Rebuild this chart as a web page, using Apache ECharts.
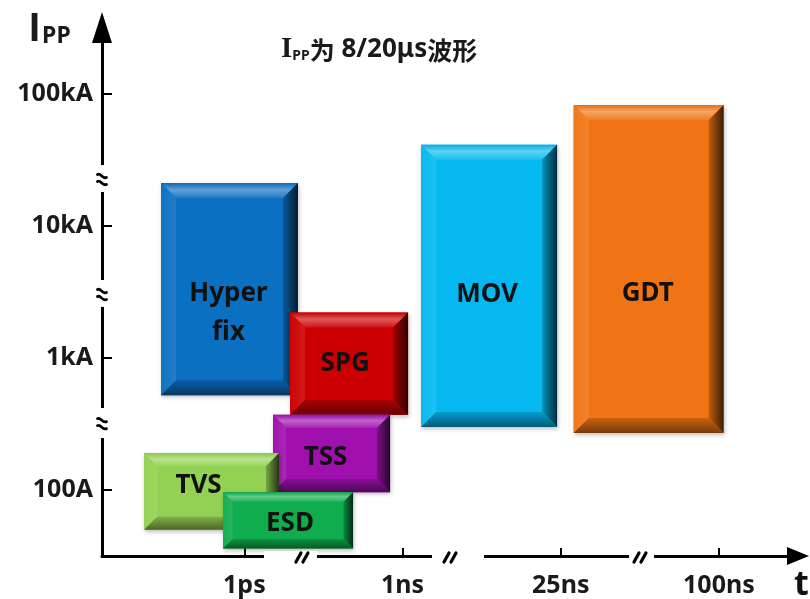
<!DOCTYPE html>
<html><head><meta charset="utf-8">
<script src="https://cdn.jsdelivr.net/npm/echarts@6/dist/echarts.min.js"></script>
<style>html,body{margin:0;padding:0;background:#fff}#c{width:810px;height:599px}</style>
</head><body><div id="c"></div>
<script>
// ---- data ----
const names    = ['Hyper\nfix', 'SPG', 'TSS', 'TVS', 'ESD', 'MOV', 'GDT'];
const tStart   = [0.473, 1.289, 1.181, 0.366, 0.865, 2.117, 3.082];   // time-axis slots
const tEnd     = [1.339, 2.035, 1.921, 1.219, 1.687, 2.977, 4.030];
const ippLow   = [520, 370, 96, 50, 36, 300, 270];                     // A
const ippHigh  = [21000, 2200, 370, 190, 96, 41000, 82000];            // A
const xTickLabels = ['1ps', '1ns', '25ns', '100ns'];
const xTickPos    = [1, 2, 3, 4];
const yTickLabels = ['100A', '1kA', '10kA', '100kA'];
const yTickValues = [100, 1000, 10000, 100000];
const xBreaks = [[1.124, 1.459, 1.364], [2.186, 2.515, 2.300], [3.432, 3.590, 3.501]]; // gap start, gap end, mark
const yBreaks = [[17990, 28770, 22180], [2427, 3882, 2987], [247, 417, 315]];

// ---- styles ----
const faces = ['#0b6fc2', '#cc0000', '#9f10ae', '#93d152', '#10ad4f', '#05b9f0', '#f07414'];
const labelOffsets = [[-1, 24], [-4, 0], [-6, 4], [-13, -6], [2, 3], [-2, 9], [-1, 25]];
const FONT = '"Noto Sans", "Noto Sans CJK SC", sans-serif';

function mix(hex, t) { // t>0 toward white, t<0 toward black
  const n = parseInt(hex.slice(1), 16);
  let r = n >> 16, g = (n >> 8) & 255, b = n & 255;
  const f = c => Math.round(t >= 0 ? c + (255 - c) * t : c * (1 + t));
  return 'rgb(' + f(r) + ',' + f(g) + ',' + f(b) + ')';
}
const LG = (x, y, x2, y2, stops) => ({type: 'linear', x, y, x2, y2, colorStops: stops.map(s => ({offset: s[0], color: s[1]}))});

const yTickPos = yTickValues.map(v => Math.log10(v));
const boxData = names.map((n, i) => [tStart[i], tEnd[i], Math.log10(ippLow[i]), Math.log10(ippHigh[i]), i]);

function renderBox(params, api) {
  const i = api.value(4);
  const tl = api.coord([api.value(0), api.value(3)]);
  const br = api.coord([api.value(1), api.value(2)]);
  const L = tl[0], T = tl[1], R = br[0], B = br[1];
  const w = R - L, h = B - T;
  const b = Math.min(15, 0.17 * Math.min(w, h));
  const c = faces[i];
  const off = labelOffsets[i];
  return {
    type: 'group',
    children: [
      {type: 'rect', shape: {x: L, y: T, width: w, height: h},
       style: {fill: c, shadowBlur: 4, shadowOffsetX: 1, shadowOffsetY: 2, shadowColor: 'rgba(0,0,0,0.25)'}},
      {type: 'polygon', shape: {points: [[L, T], [R, T], [R - b, T + b], [L + b, T + b]]},
       style: {fill: LG(0, 0, 0, 1, [[0, mix(c, -0.05)], [0.45, mix(c, 0.35)], [1, mix(c, 0.08)]])}},
      {type: 'polygon', shape: {points: [[L, T], [L + b, T + b], [L + b, B - b], [L, B]]},
       style: {fill: LG(0, 0, 1, 0, [[0, mix(c, 0.02)], [1, mix(c, 0.1)]])}},
      {type: 'polygon', shape: {points: [[R, T], [R, B], [R - b, B - b], [R - b, T + b]]},
       style: {fill: LG(0, 0, 1, 0, [[0, mix(c, -0.2)], [1, mix(c, -0.75)]])}},
      {type: 'polygon', shape: {points: [[L, B], [R, B], [R - b, B - b], [L + b, B - b]]},
       style: {fill: LG(0, 0, 0, 1, [[0, mix(c, -0.15)], [1, mix(c, -0.5)]])}},
      {type: 'text', style: {text: names[i], x: (L + R) / 2 + off[0], y: (T + B) / 2 + off[1],
        align: 'center', verticalAlign: 'middle', fontSize: 26, fontWeight: 'bold', fontFamily: FONT,
        fill: '#111', lineHeight: 39}}
    ]
  };
}

function renderXBreak(params, api) {
  const a = api.coord([api.value(0), 1.5]), e = api.coord([api.value(1), 1.5]), m = api.coord([api.value(2), 1.5]);
  const y = a[1], cx = m[0];
  const strokes = [-3.5, 3.5].map(dx => ({type: 'line', shape: {x1: cx + dx - 2.5, y1: y + 6, x2: cx + dx + 2.5, y2: y - 3},
    style: {stroke: '#000', lineWidth: 3.2, lineCap: 'round'}}));
  return {type: 'group', children: [
    {type: 'rect', shape: {x: a[0], y: y - 5, width: e[0] - a[0], height: 10}, style: {fill: '#fff'}}
  ].concat(strokes)};
}

function renderYBreak(params, api) {
  const a = api.coord([0.1, Math.log10(api.value(0))]), e = api.coord([0.1, Math.log10(api.value(1))]), m = api.coord([0.1, Math.log10(api.value(2))]);
  const x = a[0], cy = m[1];
  const strokes = [-3.5, 3.5].map(dy => ({type: 'bezierCurve',
    shape: {x1: x - 4.5, y1: cy + dy - 2, cpx1: x - 1, cpy1: cy + dy - 4, cpx2: x, cpy2: cy + dy + 3, x2: x + 4.5, y2: cy + dy + 1},
    style: {stroke: '#000', lineWidth: 2.8, fill: null, lineCap: 'round'}}));
  return {type: 'group', children: [
    {type: 'rect', shape: {x: x - 6, y: e[1], width: 12, height: a[1] - e[1]}, style: {fill: '#fff'}}
  ].concat(strokes)};
}

const axisText = {fontSize: 25, fontWeight: 'bold', fontFamily: FONT, color: '#1a1a1a'};
const chart = echarts.init(document.getElementById('c'), null, {renderer: 'canvas'});
chart.setOption({
  animation: false,
  backgroundColor: '#fff',
  grid: {left: 102, right: 12, top: 27.5, bottom: 43, containLabel: false, outerBoundsMode: 'none'},
  xAxis: {
    type: 'value', min: 0.1, max: 4.5,
    axisLine: {show: true, onZero: false, lineStyle: {color: '#000', width: 3}, symbol: ['none', 'triangle'], symbolSize: [18, 22]},
    axisTick: {show: true, inside: true, length: 8, lineStyle: {color: '#000', width: 2}, customValues: xTickPos},
    axisLabel: Object.assign({customValues: xTickPos, margin: 17,
      formatter: v => xTickLabels[xTickPos.findIndex(p => Math.abs(p - v) < 1e-6)]}, axisText),
    splitLine: {show: false}
  },
  yAxis: {
    type: 'value', min: 1.5, max: 5.5,
    axisLine: {show: true, onZero: false, lineStyle: {color: '#000', width: 3}, symbol: ['none', 'triangle'], symbolSize: [20, 31]},
    axisTick: {show: true, inside: true, length: 10, lineStyle: {color: '#000', width: 2}, customValues: yTickPos},
    axisLabel: Object.assign({customValues: yTickPos, margin: 9,
      formatter: v => yTickLabels[yTickPos.findIndex(p => Math.abs(p - v) < 1e-6)]}, axisText),
    splitLine: {show: false}
  },
  graphic: [
    {type: 'text', left: 29, top: 10, style: {text: '{i|I}{p|PP}', rich: {
      i: {fontSize: 40, fontWeight: 'bold', fontFamily: '"Liberation Sans", sans-serif', fill: '#1a1a1a', verticalAlign: 'bottom'},
      p: {fontSize: 23, fontWeight: 'bold', fontFamily: FONT, fill: '#1a1a1a', verticalAlign: 'bottom', padding: [0, 0, 2, 2]}}}},
    {type: 'text', left: 281, top: 35, style: {text: '{i|I}{p|PP}{c|为}{l| 8/20μs}{c|波形}', rich: {
      i: {fontSize: 29, fontWeight: 'bold', fontFamily: '"Liberation Serif", serif', fill: '#1a1a1a', verticalAlign: 'bottom'},
      p: {fontSize: 14, fontWeight: 'bold', fontFamily: FONT, fill: '#1a1a1a', verticalAlign: 'bottom', padding: [0, 0, 1, 0]},
      c: {fontSize: 25, fontWeight: 'bold', fontFamily: '"Noto Sans CJK SC", sans-serif', fill: '#1a1a1a', verticalAlign: 'bottom', padding: [0, 0, 1, 0]},
      l: {fontSize: 26, fontWeight: 'bold', fontFamily: FONT, fill: '#1a1a1a', verticalAlign: 'bottom', padding: [0, 0, 1, 0]}}}},
    {type: 'text', left: 794, top: 568, style: {text: 't', fontSize: 34, fontWeight: 'bold', fontFamily: FONT, fill: '#111'}}
  ],
  series: [
    {type: 'custom', name: 'boxes', renderItem: renderBox, data: boxData, encode: {x: [0, 1], y: [2, 3]}, clip: false, z: 3},
    {type: 'custom', name: 'xBreaks', renderItem: renderXBreak, data: xBreaks, encode: {x: [0, 1]}, clip: false, z: 5, silent: true},
    {type: 'custom', name: 'yBreaks', renderItem: renderYBreak, data: yBreaks, clip: false, z: 5, silent: true}
  ]
});
</script></body></html>
